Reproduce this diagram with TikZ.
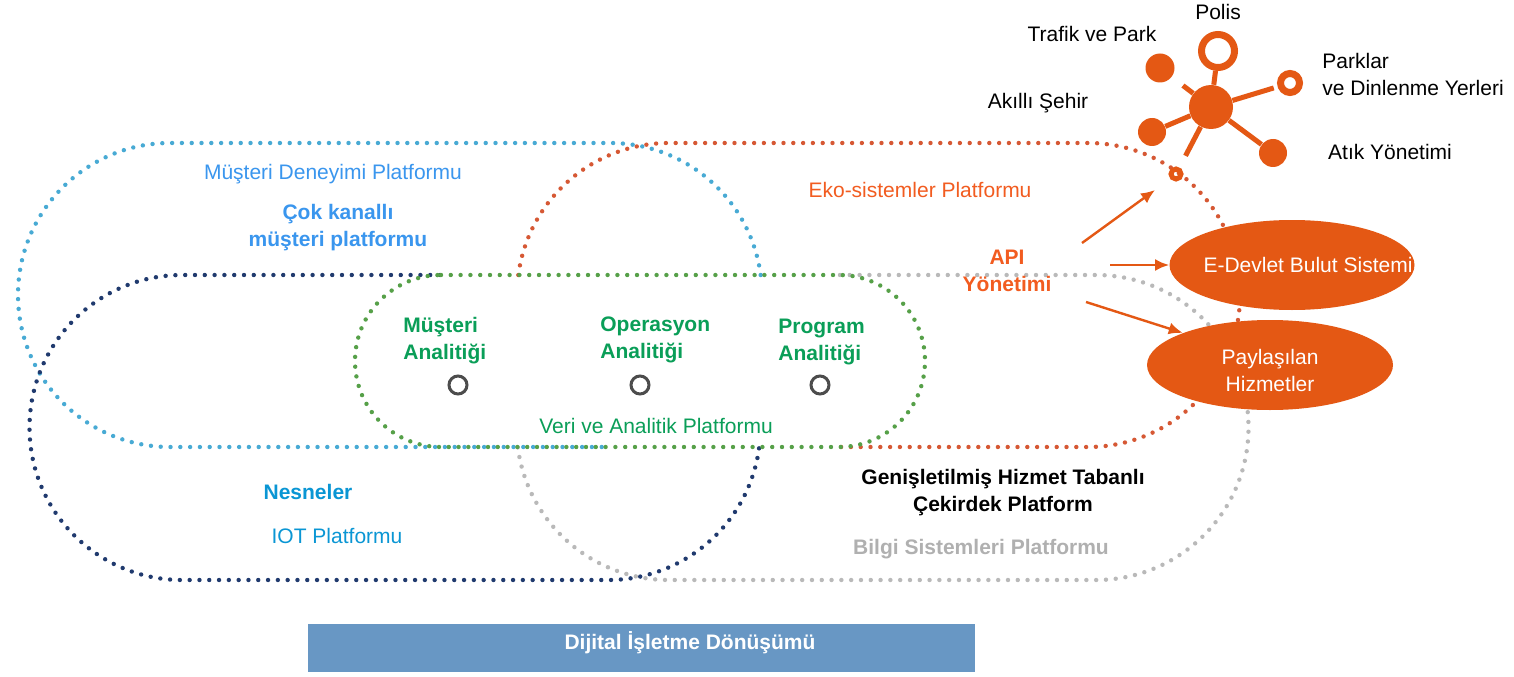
\documentclass[tikz,border=0pt]{standalone}
\usepackage{fontspec}
\setmainfont{Liberation Sans}
\usetikzlibrary{arrows.meta,calc,positioning,shapes.geometric}

\definecolor{lblue}{RGB}{72,170,212}
\definecolor{dblue}{RGB}{32,58,110}
\definecolor{ored}{RGB}{214,88,52}
\definecolor{gline}{RGB}{185,185,185}
\definecolor{gdot}{RGB}{86,160,72}
\definecolor{orng}{RGB}{228,88,20}
\definecolor{txtblue}{RGB}{58,150,238}
\definecolor{cyanblue}{RGB}{10,150,212}
\definecolor{gtext}{RGB}{10,158,88}
\definecolor{otext}{RGB}{242,92,32}
\definecolor{gtxt}{RGB}{176,176,176}
\definecolor{barblue}{RGB}{104,151,196}

\begin{document}
\begin{tikzpicture}[x=0.5pt,y=0.5pt,
  dots/.style={line width=2.2pt,line cap=round,dash pattern=on 0pt off 4.9pt},
  lbl/.style={font=\fontsize{10.5}{13.5}\selectfont,align=center,inner sep=0pt},
  bld/.style={font=\fontsize{10.5}{13.5}\selectfont\bfseries,align=center,inner sep=0pt},
  blob/.style={ellipse,fill=orng,inner sep=0pt},
  dotfill/.style={circle,fill=orng,inner sep=0pt},
  ringnode/.style={circle,draw=orng,inner sep=0pt},
  spoke/.style={draw=orng,line width=2.5pt},
  probe/.style={circle,draw=black!70,line width=1.5pt,minimum size=9pt,inner sep=0pt},
  link/.style={draw=orng,line width=1.2pt,-{Latex[length=7pt,width=6pt]}}]
\useasboundingbox[fill=white] (0,0) rectangle (1514,676);

\draw[dots,lblue] ([shift={(7.56:152)}]610,381) arc[start angle=7.56,end angle=90,radius=152]
  -- (170,533) arc[start angle=90,end angle=270,radius=152] -- (610,229);
\draw[dots,dblue] (440,401) -- (182,401) arc[start angle=90,end angle=270,radius=152.5]
  -- (608,96) arc[start angle=-90,end angle=-7.35,radius=152.5];
\draw[dots,ored] ([shift={(172.44:152)}]669,381) arc[start angle=172.44,end angle=90,radius=152]
  -- (1088,533) arc[start angle=90,end angle=-90,radius=152] -- (840,229);
\draw[dots,gline] (840,401) -- (1096,401) arc[start angle=90,end angle=-90,radius=152.5]
  -- (669,96) arc[start angle=270,end angle=187.35,radius=152.5];
\draw[dots,gdot] (441,401) -- (839,401) arc[start angle=90,end angle=-90,radius=86]
  -- (441,229) arc[start angle=270,end angle=90,radius=86] -- cycle;

\node[blob,minimum width=122.5pt,minimum height=45pt] (cloud) at (1292,411) {};
\node[blob,minimum width=123pt,minimum height=45pt] (shared) at (1270,311) {};
\node[lbl,text=white] (cloudtxt) at (1308,411) {E-Devlet Bulut Sistemi};
\node[lbl,text=white] (sharedtxt) at (1270,306) {Paylaşılan\\Hizmetler};

\node[dotfill,minimum size=22pt] (hub) at (1211,569) {};
\node[ringnode,line width=3.5pt,minimum size=16.5pt] (police) at (1218,625) {};
\node[dotfill,minimum size=14.5pt] (traffic) at (1160,608) {};
\node[ringnode,line width=3.5pt,minimum size=9.5pt] (parks) at (1290,593) {};
\node[dotfill,minimum size=14pt] (smart) at (1152,544) {};
\node[dotfill,minimum size=14pt] (waste) at (1273,523) {};
\node[ringnode,line width=2.5pt,minimum size=5pt] (city) at (1176,502) {};
\draw[spoke] (hub) -- (police);
\draw[spoke,shorten >=7pt] (hub) -- (traffic);
\draw[spoke,shorten >=2pt] (hub) -- (parks);
\draw[spoke] (hub) -- (smart);
\draw[spoke] (hub) -- (waste);
\draw[spoke,shorten >=6.5pt] (hub) -- (city);

\node[lbl] (polis) at (1218,664) {Polis};
\node[lbl] (trafik) at (1092,642) {Trafik ve Park};
\node[lbl,anchor=west,align=left] (parklar) at (1322,602) {Parklar\\ve Dinlenme Yerleri};
\node[lbl] (akilli) at (1038,573) {Akıllı Şehir};
\node[lbl] (atik) at (1390,524) {Atık Yönetimi};

\node[lbl,text=txtblue] (mdp) at (333,502) {Müşteri Deneyimi Platformu};
\node[bld,text=txtblue] (cokkanal) at (338,448) {Çok kanallı\\müşteri platformu};
\node[lbl,text=otext] (eko) at (920,486) {Eko-sistemler Platformu};
\node[bld,text=otext] (api) at (1007,405) {API\\Yönetimi};

\node[bld,text=gtext,anchor=west,align=left] (mus) at (403,335) {Müşteri\\Analitiği};
\node[bld,text=gtext,anchor=west,align=left] (ops) at (600,336) {Operasyon\\Analitiği};
\node[bld,text=gtext,anchor=west,align=left] (prog) at (778,334) {Program\\Analitiği};
\node[probe] (musring) at (458,291) {};
\node[probe] (opsring) at (640,291) {};
\node[probe] (progring) at (820,291) {};
\node[lbl,text=gtext] (veri) at (656,250) {Veri ve Analitik Platformu};

\node[bld,text=cyanblue] (nesne) at (308,184) {Nesneler};
\node[lbl,text=cyanblue] (iot) at (337,140) {IOT Platformu};
\node[bld] (cekirdek) at (1003,183) {Genişletilmiş Hizmet Tabanlı\\Çekirdek Platform};
\node[bld,text=gtxt] (bilgi) at (981,127) {Bilgi Sistemleri Platformu};

\node[fill=barblue,minimum width=333.5pt,minimum height=24pt,inner sep=0pt] (bar) at (641.5,28) {};
\node[bld,text=white] (dijital) at (690,33) {Dijital İşletme Dönüşümü};

\coordinate (api1) at (1082,433);
\coordinate (api2) at (1110,411);
\coordinate (api3) at (1086,374);
\coordinate (tip1) at (1155,486);
\draw[link] (api1) -- (tip1);
\draw[link] (api2) -- (cloud.west);
\draw[link] (api3) -- (shared.north west);
\end{tikzpicture}
\end{document}
